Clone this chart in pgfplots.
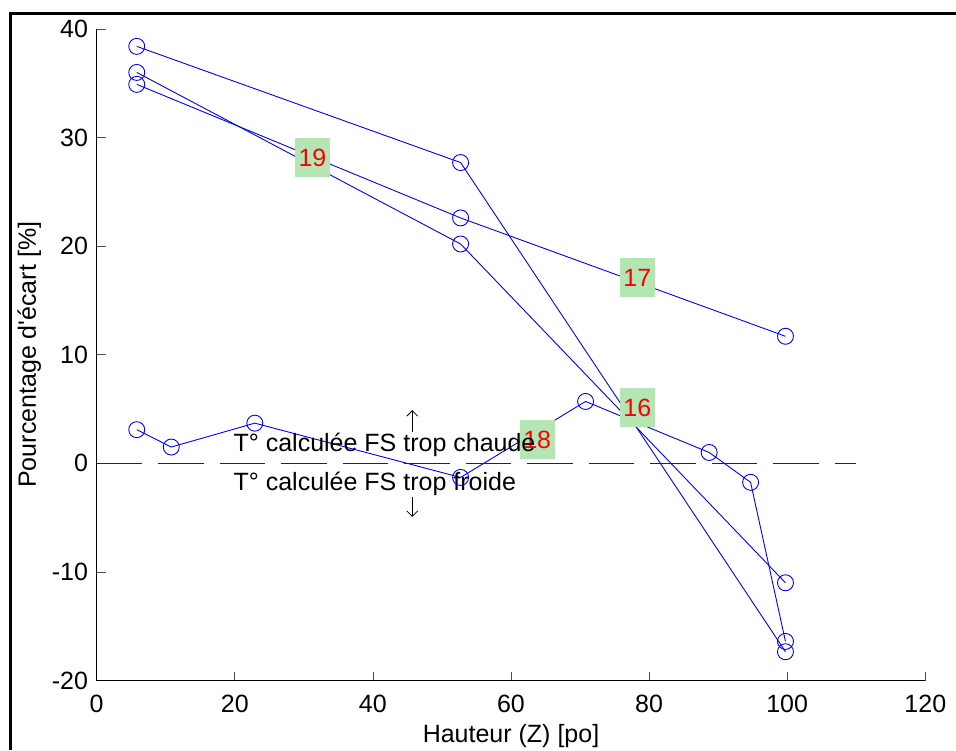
\documentclass[border=0pt]{standalone}
\usepackage{fontspec}
\setmainfont{Liberation Sans}
\usepackage{pgfplots}
\pgfplotsset{compat=1.18}
\usetikzlibrary{arrows.meta}
\definecolor{lblgreen}{RGB}{179,230,179}
\begin{document}
\fontsize{25pt}{29pt}\selectfont
\begin{tikzpicture}
\begin{axis}[
  scale only axis, width=828.6pt, height=651.5pt,
  xmin=0,xmax=120,ymin=-20,ymax=40,
  axis lines=left, axis line style={-, line width=0.8pt, black},
  xtick={0,20,...,120}, ytick={-20,-10,...,40},
  tick align=inside, major tick length=9pt,
  tick style={line width=0.6pt, black!70},
  /pgf/number format/assume math mode=true,
  xticklabel style={anchor=north, inner sep=0pt, yshift=-14pt},
  yticklabel style={anchor=east, inner sep=0pt, xshift=-8.5pt},
  xlabel={Hauteur (Z) [po]},
  ylabel={Pourcentage d\textquotesingle écart [\%]},
  xlabel style={at={(axis description cs:0.5,-0.0959)}, anchor=base, inner sep=0pt},
  ylabel style={at={(axis description cs:-0.0733,0.5)}, anchor=base, inner sep=0pt},
  clip=false,
  ser/.style={blue, line width=0.9pt, mark=o, mark size=8pt, mark options={solid, line width=0.9pt}},
]
\addplot[ser] coordinates {(5.8,38.4)(52.7,27.7)(99.75,-17.35)};
\addplot[ser] coordinates {(5.8,36.0)(52.7,20.2)(99.75,-11.0)};
\addplot[ser] coordinates {(5.8,34.9)(52.7,22.6)(99.75,11.7)};
\addplot[ser] coordinates {(5.8,3.1)(10.8,1.5)(22.9,3.7)(52.7,-1.3)(70.8,5.7)(88.7,1.0)(94.7,-1.75)(99.75,-16.4)};
\addplot[black!85, mark=none, line width=0.8pt, dash pattern=on 45.5pt off 16pt] coordinates {(0,0)(110,0)};
\node[fill=lblgreen, text=red, minimum width=35pt, minimum height=39pt, inner sep=0pt] at (axis cs:31.25,28.16) {19};
\node[fill=lblgreen, text=red, minimum width=35pt, minimum height=39pt, inner sep=0pt] at (axis cs:78.3,17.1) {17};
\node[fill=lblgreen, text=red, minimum width=35pt, minimum height=39pt, inner sep=0pt] at (axis cs:78.3,5.14) {16};
\node[fill=lblgreen, text=red, minimum width=35pt, minimum height=39pt, inner sep=0pt] at (axis cs:63.8,2.2) {18};
\node[anchor=base west, inner sep=0pt] at (axis cs:19.8,1.07) {T° calculée FS trop chaude};
\node[anchor=base west, inner sep=0pt] at (axis cs:19.8,-2.52) {T° calculée FS trop froide};
\draw[-{Straight Barb[length=5.5pt,width=11pt]}, line width=0.8pt] (axis cs:45.7,2.88) -- (axis cs:45.7,4.9);
\draw[-{Straight Barb[length=5.5pt,width=11pt]}, line width=0.8pt] (axis cs:45.7,-3.1) -- (axis cs:45.7,-4.94);
\end{axis}
\draw[line width=2.4pt] (-86.2pt,-69.5pt) -- (-86.2pt,667pt) -- (859.3pt,667pt);
\pgfresetboundingbox
\path[use as bounding box] (-96.7pt,-69.5pt) rectangle (859.3pt,680.5pt);
\end{tikzpicture}
\end{document}
